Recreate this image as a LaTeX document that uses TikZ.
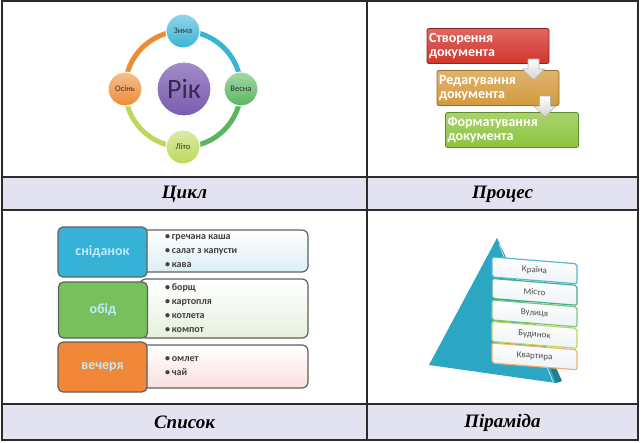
\documentclass[tikz,border=0pt]{standalone}
\usepackage{fontspec}
\setmainfont{Liberation Serif}
\newfontfamily\diagfont{Carlito}
\usetikzlibrary{positioning}

\definecolor{GridLine}{HTML}{2B2B2B}
\definecolor{CaptionBand}{HTML}{E3E2F0}
\definecolor{YearPurple}{HTML}{7B5BB0}
\definecolor{WinterCyan}{HTML}{38B4D6}
\definecolor{SpringGreen}{HTML}{5AB65E}
\definecolor{SummerLime}{HTML}{BCD95A}
\definecolor{AutumnOrange}{HTML}{EE8C34}
\definecolor{StepRed}{HTML}{D2352B}
\definecolor{StepGold}{HTML}{D39A3E}
\definecolor{StepGreen}{HTML}{8CC43E}
\definecolor{MealCyan}{HTML}{36B2D6}
\definecolor{MealGreen}{HTML}{78C05E}
\definecolor{MealOrange}{HTML}{F08838}
\definecolor{MealCyanLight}{HTML}{DCEEF5}
\definecolor{MealGreenLight}{HTML}{E5F1DC}
\definecolor{MealOrangeLight}{HTML}{F9E0DD}
\definecolor{PyramidTeal}{HTML}{2BA7C3}
\definecolor{TierFill}{HTML}{EDF3F6}

\tikzset{
    % Table frame
    gridline/.style={
        line width=1.4pt,
        draw=GridLine
    },
    % Caption text
    captiontext/.style={
        font=\fontsize{19}{19}\selectfont\bfseries\itshape,
        text=black
    },
    % Cycle: ring segment
    ringseg/.style={
        line width=5pt
    },
    % Cycle: season circle
    seasonnode/.style={
        circle,
        minimum size=34pt,
        inner sep=0pt,
        draw=white,
        line width=1pt,
        shading=axis,
        font=\diagfont\fontsize{8.5}{8.5}\selectfont,
        text=black!80
    },
    % Cycle: centre circle
    yearnode/.style={
        circle,
        minimum size=54pt,
        inner sep=0pt,
        draw=white,
        line width=1pt,
        top color=YearPurple!70!white,
        bottom color=YearPurple,
        font=\diagfont\fontsize{28}{28}\selectfont,
        text=YearPurple!45!black
    },
    % Process step box
    stepbox/.style={
        rectangle,
        rounded corners=2pt,
        minimum height=35pt,
        inner xsep=2pt,
        align=left,
        line width=0.8pt,
        font=\diagfont\bfseries\fontsize{14}{14}\selectfont,
        text=white
    },
    % Process down arrow
    blockarrow/.style={
        draw=gray!60,
        line width=0.6pt,
        top color=white,
        bottom color=gray!35
    },
    % List: meal label
    mealbox/.style={
        rectangle,
        rounded corners=5pt,
        minimum width=89pt,
        draw=GridLine!75,
        line width=1.2pt,
        font=\diagfont\bfseries\fontsize{14}{14}\selectfont,
        text=white!75!cyan
    },
    % List: item panel
    itempanel/.style={
        rectangle,
        rounded corners=6pt,
        minimum width=168pt,
        draw=GridLine!75,
        line width=1.2pt
    },
    % List: items text
    itemtext/.style={
        anchor=west,
        align=left,
        inner sep=0pt,
        font=\diagfont\bfseries\fontsize{10}{14}\selectfont,
        text=black!75
    },
    % Pyramid tier
    tierbox/.style={
        rectangle,
        rounded corners=2pt,
        minimum width=85pt,
        minimum height=20pt,
        top color=white,
        bottom color=TierFill,
        line width=1.2pt,
        font=\diagfont\fontsize{9}{9}\selectfont,
        text=black!70
    }
}

\begin{document}
\begin{tikzpicture}[x=1pt, y=-1pt]
    \useasboundingbox (0,0) rectangle (642,442);

    % caption bands and frame
    \fill[CaptionBand] (2,177) rectangle (638,210);
    \fill[CaptionBand] (2,404) rectangle (638,440);
    \draw[gridline] (2,1) rectangle (638,440);
    \draw[gridline] (367,1) -- (367,440);
    \draw[gridline] (2,177) -- (638,177);
    \draw[gridline] (2,210) -- (638,210);
    \draw[gridline] (2,404) -- (638,404);

    \node[captiontext] (capcycle) at (184.5,194) {Цикл};
    \node[captiontext] (capprocess) at (502.5,194) {Процес};
    \node[captiontext] (caplist) at (184.5,422.5) {Список};
    \node[captiontext] (cappyramid) at (502.5,422.5) {Піраміда};

    % cycle
    \coordinate (zc) at (183,31);
    \coordinate (vc) at (241,89);
    \coordinate (lc) at (183,147);
    \coordinate (oc) at (125,89);
    \draw[ringseg, WinterCyan] (zc) to[bend left=45] (vc);
    \draw[ringseg, SpringGreen] (vc) to[bend left=45] (lc);
    \draw[ringseg, SummerLime] (lc) to[bend left=45] (oc);
    \draw[ringseg, AutumnOrange] (oc) to[bend left=45] (zc);

    \node[yearnode] (year) at (184,89) {Рік};
    \node[seasonnode, top color=WinterCyan!55!white, bottom color=WinterCyan] (winter) at (zc) {Зима};
    \node[seasonnode, top color=SpringGreen!55!white, bottom color=SpringGreen] (spring) at (vc) {Весна};
    \node[seasonnode, top color=SummerLime!55!white, bottom color=SummerLime] (summer) at (lc) {Літо};
    \node[seasonnode, top color=AutumnOrange!55!white, bottom color=AutumnOrange] (autumn) at (oc) {Осінь};

    % process
    \node[stepbox, minimum width=122pt, text width=118pt, draw=StepRed!70!black,
          top color=StepRed!75!white, bottom color=StepRed] (create) at (488,46) {Створення\\документа};
    \node[stepbox, minimum width=122pt, text width=118pt, draw=StepGold!70!black,
          top color=StepGold!75!white, bottom color=StepGold] (edit) at (498,88) {Редагування\\документа};
    \node[stepbox, minimum width=133pt, text width=129pt, draw=StepGreen!70!black,
          top color=StepGreen!75!white, bottom color=StepGreen] (format) at (512,130) {Форматування\\документа};

    \coordinate (arrowone) at (533.5,59);
    \coordinate (arrowtwo) at (545,96);
    \path[blockarrow, shift={(arrowone)}] (-5.5,0) -- (5.5,0) -- (5.5,10) -- (11,10) -- (0,21) -- (-11,10) -- (-5.5,10) -- cycle;
    \path[blockarrow, shift={(arrowtwo)}] (-5.5,0) -- (5.5,0) -- (5.5,10) -- (11,10) -- (0,21) -- (-11,10) -- (-5.5,10) -- cycle;

    % list
    \node[itempanel, minimum height=42pt, top color=white, bottom color=MealCyanLight] (breakfastpanel) at (224,251) {};
    \node[itempanel, minimum height=59pt, top color=white, bottom color=MealGreenLight] (lunchpanel) at (224,308.5) {};
    \node[itempanel, minimum height=43pt, top color=white, bottom color=MealOrangeLight] (dinnerpanel) at (224,366.5) {};

    \node[mealbox, minimum height=50pt, fill=MealCyan] (breakfast) at (102.5,252) {сніданок};
    \node[mealbox, minimum height=56pt, fill=MealGreen] (lunch) at (103,310) {обід};
    \node[mealbox, minimum height=50pt, fill=MealOrange] (dinner) at (102.5,367) {вечеря};

    \node[itemtext] (breakfastitems) at (165,251.5) {•\,гречана каша\\•\,салат з капусти\\•\,кава};
    \node[itemtext] (lunchitems) at (165,308.5) {•\,борщ\\•\,картопля\\•\,котлета\\•\,компот};
    \node[itemtext] (dinneritems) at (165,366.5) {•\,омлет\\•\,чай};

    % pyramid
    \fill[PyramidTeal] (497,238) -- (429,365) -- (556,383) -- cycle;
    \fill[PyramidTeal!75!black] (497,238) -- (556,383) -- (562,381) -- cycle;
    \draw[white, line width=0.8pt, opacity=0.7] (499,244) -- (553,382);

    \begin{scope}[shift={(492,257)}, yslant=-0.08, transform shape]
        \node[tierbox, draw=PyramidTeal!80] (country) at (42.5,10) {Країна};
        \node[tierbox, draw=PyramidTeal!50!SpringGreen] (city) at (42.5,31.5) {Місто};
        \node[tierbox, draw=SpringGreen!80] (street) at (42.5,53) {Вулиця};
        \node[tierbox, draw=SummerLime] (house) at (42.5,74.5) {Будинок};
        \node[tierbox, draw=AutumnOrange!70] (flat) at (42.5,96) {Квартира};
    \end{scope}
\end{tikzpicture}
\end{document}
